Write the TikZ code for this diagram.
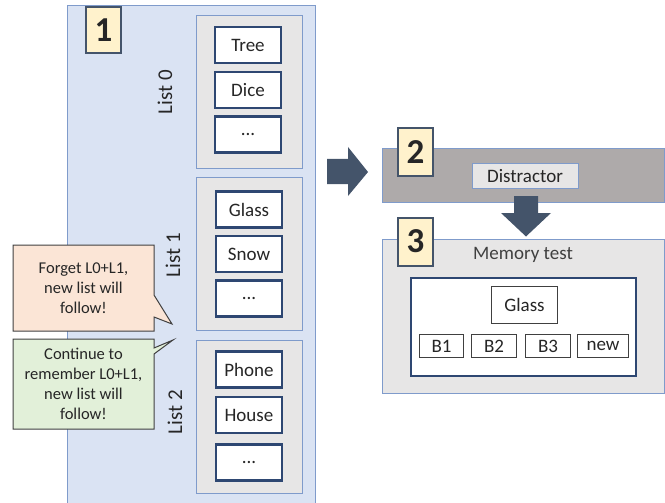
\documentclass[tikz,border=0pt]{standalone}
\usepackage{fontspec}
\setmainfont{Carlito}

\definecolor{panelblue}{HTML}{DAE3F3}
\definecolor{edgeblue}{HTML}{7F9BCB}
\definecolor{listgrey}{HTML}{E7E6E6}
\definecolor{itemnavy}{HTML}{2E4772}
\definecolor{numfill}{HTML}{FFF2CC}
\definecolor{slate}{HTML}{44546A}
\definecolor{distgrey}{HTML}{AEAAAA}
\definecolor{forgetfill}{HTML}{FBE5D6}
\definecolor{keepfill}{HTML}{E2F0D9}
\definecolor{notebd}{HTML}{404040}
\definecolor{txt}{HTML}{262626}

\begin{document}
\begin{tikzpicture}[x=1pt, y=-1pt,
	every node/.style={text=txt, inner sep=0pt, font=\fontsize{19}{21}\selectfont},
	panel/.style={draw=edgeblue, line width=0.9pt},
	listbox/.style={panel, fill=listgrey, minimum width=106pt, minimum height=153pt},
	item/.style={draw=itemnavy, line width=2.3pt, fill=white, minimum width=66.5pt, minimum height=36pt},
	numbox/.style={draw=slate, line width=2pt, fill=numfill, minimum width=35pt, minimum height=46pt, font=\fontsize{35}{35}\bfseries},
	answer/.style={draw=notebd, line width=1pt, fill=white, minimum height=23pt},
	note/.style={draw=notebd, line width=1pt},
	notetext/.style={align=center, font=\fontsize{16.5}{20}\selectfont},
	block/.style={fill=slate}]
	\useasboundingbox (0,0) rectangle (665,503);

	% phase 1: study lists
	\filldraw[panel, fill=panelblue] (67,5) rectangle (315,510);
	\node[numbox] (one) at (103.5,30) {1};

	\node[listbox] (l0) at (249.5,91.5) {};
	\node[listbox] (l1) at (249.5,254) {};
	\node[listbox] (l2) at (249.5,416.5) {};

	\node[item] (tree) at (248,45) {Tree};
	\node[item] (dice) at (248,90) {Dice};
	\node[item] (more0) at (248,134.5) {...};

	\node[item] (glass) at (249,209.5) {Glass};
	\node[item] (snow) at (249,254) {Snow};
	\node[item] (more1) at (249,298.5) {...};

	\node[item] (phone) at (249,369.5) {Phone};
	\node[item] (house) at (249,415) {House};
	\node[item] (more2) at (249,462.5) {...};

	\node[rotate=90, font=\fontsize{21}{21}\selectfont] (lab0) at (165,92) {List 0};
	\node[rotate=90, font=\fontsize{21}{21}\selectfont] (lab1) at (173,255) {List 1};
	\node[rotate=90, font=\fontsize{21}{21}\selectfont] (lab2) at (175,412) {List 2};

	% cues
	\filldraw[note, fill=forgetfill] (13,245) -- (154,245) -- (154,295) -- (172,324)
		-- (154,317) -- (154,331) -- (13,331) -- cycle;
	\node[notetext] (forget) at (83.5,288) {Forget L0+L1,\\new list will\\follow!};

	\filldraw[note, fill=keepfill] (13,339) -- (154,339) -- (154,348) -- (173,340)
		-- (154,354) -- (154,429) -- (13,429) -- cycle;
	\node[notetext] (keep) at (83.5,384) {Continue to\\remember L0+L1,\\new list will\\follow!};

	% arrows
	\fill[block] (327,159) -- (348,159) -- (348,147) -- (368,172) -- (348,196)
		-- (348,184) -- (327,184) -- cycle;

	% phase 2: distractor
	\filldraw[panel, fill=distgrey] (382,148) rectangle (664.5,202);
	\node[numbox, minimum height=48pt] (two) at (415.5,152) {2};
	\node[panel, fill=listgrey, minimum width=106pt, minimum height=25pt] (dist) at (525,176) {Distractor};

	\fill[block] (514,196) -- (538,196) -- (538,213) -- (551,213) -- (526,236.5)
		-- (501,213) -- (514,213) -- cycle;

	% phase 3: memory test
	\filldraw[panel, fill=listgrey] (382,239) rectangle (664.5,393);
	\node[numbox, minimum height=48pt] (three) at (415.5,241.5) {3};
	\node[text=notebd] (mtest) at (523,255) {Memory test};

	\node[draw=itemnavy, line width=2.3pt, fill=white, minimum width=225pt, minimum height=98pt] (screen) at (523.5,327) {};
	\node[answer, minimum width=66pt, minimum height=37pt] (probe) at (524.5,305) {Glass};
	\node[answer, minimum width=44pt] (b1) at (441.5,346) {B1};
	\node[answer, minimum width=45pt] (b2) at (494,346) {B2};
	\node[answer, minimum width=45pt] (b3) at (548,346) {B3};
	\node[answer, minimum width=51pt] (new) at (603,346) {new};
\end{tikzpicture}
\end{document}
